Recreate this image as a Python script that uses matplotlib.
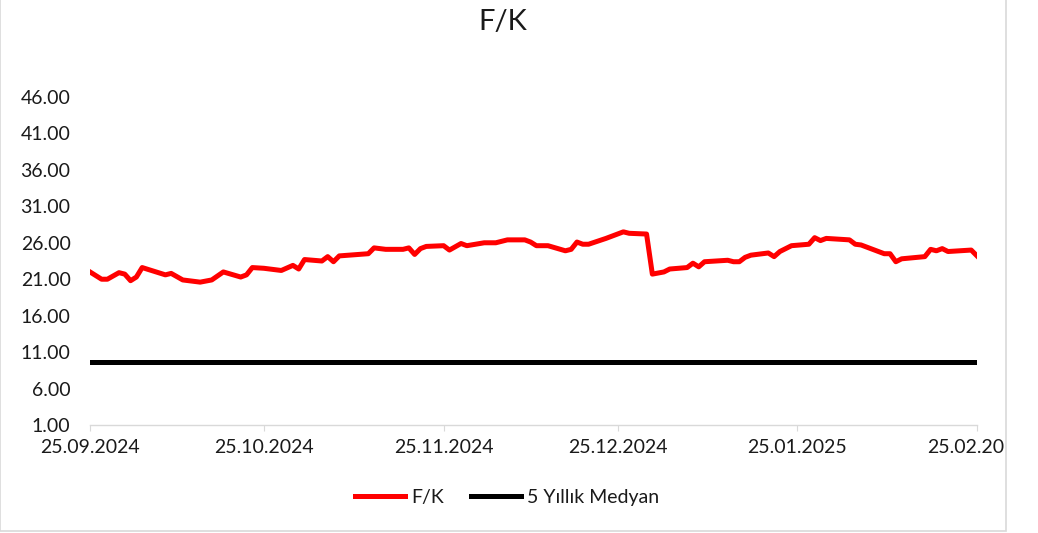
import numpy as np
import pandas as pd
import matplotlib
matplotlib.use('Agg')
import matplotlib.pyplot as plt
import matplotlib.dates as mdates
from matplotlib.patches import Rectangle
from matplotlib.transforms import Bbox

# F/K values
fk_dates = [
    "2024-09-25", "2024-09-27", "2024-09-28", "2024-09-30", "2024-10-01", "2024-10-02",
    "2024-10-03", "2024-10-04", "2024-10-08", "2024-10-09", "2024-10-11", "2024-10-14",
    "2024-10-16", "2024-10-18", "2024-10-21", "2024-10-22", "2024-10-23", "2024-10-25",
    "2024-10-28", "2024-10-30", "2024-10-31", "2024-11-01", "2024-11-04", "2024-11-05",
    "2024-11-06", "2024-11-07", "2024-11-12", "2024-11-13", "2024-11-15", "2024-11-18",
    "2024-11-19", "2024-11-20", "2024-11-21", "2024-11-22", "2024-11-25", "2024-11-26",
    "2024-11-28", "2024-11-29", "2024-12-02", "2024-12-04", "2024-12-06", "2024-12-09",
    "2024-12-10", "2024-12-11", "2024-12-13", "2024-12-16", "2024-12-17", "2024-12-18",
    "2024-12-19", "2024-12-20", "2024-12-23", "2024-12-26", "2024-12-27", "2024-12-30",
    "2024-12-31", "2025-01-02", "2025-01-03", "2025-01-06", "2025-01-07", "2025-01-08",
    "2025-01-09", "2025-01-13", "2025-01-14", "2025-01-15", "2025-01-16", "2025-01-17",
    "2025-01-20", "2025-01-21", "2025-01-22", "2025-01-24", "2025-01-27", "2025-01-28",
    "2025-01-29", "2025-01-30", "2025-02-03", "2025-02-04", "2025-02-05", "2025-02-06",
    "2025-02-09", "2025-02-10", "2025-02-11", "2025-02-12", "2025-02-16", "2025-02-17",
    "2025-02-18", "2025-02-19", "2025-02-20", "2025-02-24", "2025-02-25",
]
fk_values = [
    22.0, 21.0, 21.0, 21.9, 21.7, 20.8,
    21.3, 22.6, 21.6, 21.8, 20.9, 20.6,
    20.9, 22.0, 21.3, 21.6, 22.6, 22.5,
    22.2, 22.9, 22.4, 23.7, 23.5, 24.1,
    23.4, 24.2, 24.5, 25.3, 25.1, 25.1,
    25.3, 24.4, 25.2, 25.5, 25.6, 25.0,
    25.9, 25.6, 26.0, 26.0, 26.4, 26.4,
    26.1, 25.6, 25.6, 24.9, 25.1, 26.1,
    25.8, 25.8, 26.6, 27.5, 27.3, 27.2,
    21.7, 22.0, 22.4, 22.6, 23.2, 22.7,
    23.4, 23.6, 23.4, 23.4, 24.0, 24.3,
    24.6, 24.1, 24.8, 25.6, 25.8, 26.7,
    26.3, 26.6, 26.4, 25.8, 25.7, 25.4,
    24.5, 24.5, 23.4, 23.8, 24.1, 25.1,
    24.9, 25.2, 24.8, 25.0, 24.2,
]
median_5y = 9.6

x_start = "2024-09-25"
x_end = "2025-02-25"
tick_dates = ["2024-09-25", "2024-10-25", "2024-11-25", "2024-12-25", "2025-01-25", "2025-02-25"]
y_ticks = [1, 6, 11, 16, 21, 26, 31, 36, 41, 46]

W, H = 1038, 533
plt.rcParams['font.family'] = ['Lato', 'DejaVu Sans']
txt = '#1a1a1a'
grey = '#d9d9d9'

fig = plt.figure(figsize=(W / 100, H / 100), dpi=100)
ax = fig.add_axes([90 / W, 1 - 425 / H, (977 - 90) / W, (425 - 97) / H])

d = pd.to_datetime(fk_dates)
ax.plot(d, fk_values, color='#ff0000', lw=3.6, solid_joinstyle='round', label='F/K')
ax.plot(pd.to_datetime([x_start, x_end]), [median_5y, median_5y], color='black', lw=3.6,
        label='5 Yıllık Medyan')

ax.set_xlim(pd.Timestamp(x_start), pd.Timestamp(x_end))
ax.set_ylim(1, 46)
ax.set_yticks(y_ticks)
ax.set_yticklabels([f"{v:.2f}" for v in y_ticks])
ax.set_xticks(pd.to_datetime(tick_dates))
ax.xaxis.set_major_formatter(mdates.DateFormatter('%d.%m.%Y'))

for s in ['top', 'right', 'left']:
    ax.spines[s].set_visible(False)
ax.spines['bottom'].set_color(grey)
ax.spines['bottom'].set_linewidth(1)
ax.tick_params(axis='y', length=0, pad=14, labelsize=14, labelcolor=txt)
ax.tick_params(axis='x', length=4, color=grey, pad=6, labelsize=14, labelcolor=txt)

# clip the last date label at the chart border, as in the original
clip = Bbox.from_extents(0, 0, 1005, H)
for lbl in ax.get_xticklabels():
    lbl.set_clip_on(True)
    lbl.set_clip_box(clip)

fig.text(503 / W, 1 - 22 / H, 'F/K', ha='center', va='center', fontsize=21, color=txt)

fig.legend(loc='center', bbox_to_anchor=(507 / W, 1 - 497 / H), ncol=2, frameon=False,
           fontsize=14, handlelength=2.6, handletextpad=0.3, columnspacing=1.4,
           labelcolor=txt)

fig.patches.append(Rectangle((0, 2 / H), 1006 / W, 1.2, transform=fig.transFigure,
                             fill=False, edgecolor=grey, lw=1.2))

fig.savefig('out.png', dpi=100)
